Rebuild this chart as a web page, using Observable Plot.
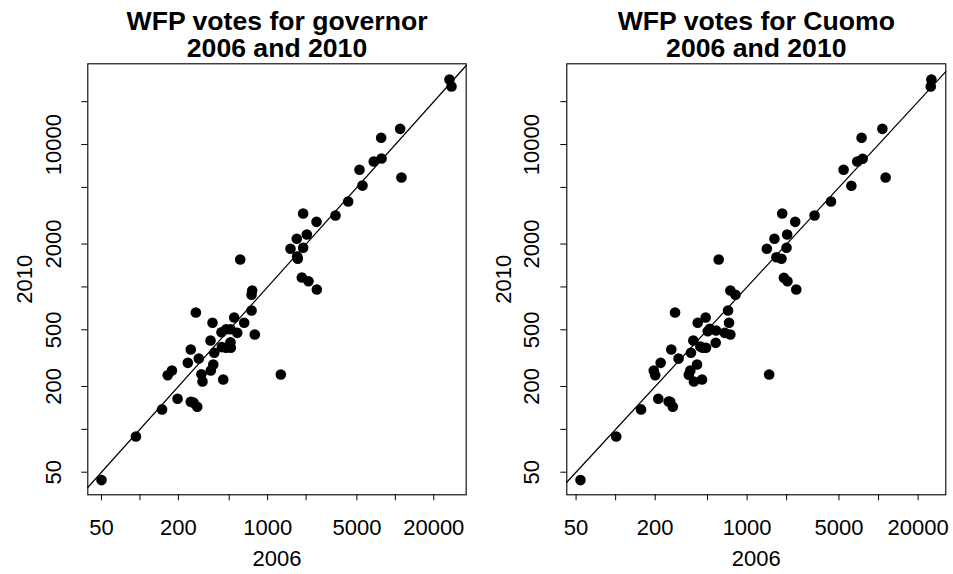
<!DOCTYPE html>
<html><head><meta charset="utf-8">
<script src="https://cdn.jsdelivr.net/npm/d3@7"></script>
<script src="https://cdn.jsdelivr.net/npm/@observablehq/plot@0.6"></script>
<style>
html,body{margin:0;padding:0;background:#fff;}
#row{display:flex;width:953px;height:574px;}
#row svg{display:block;}
</style></head><body><div id="row"></div>
<script>
// WFP votes for governor (left panel)
const governor2006 = [26550, 27540, 10910, 7745, 6780, 7800, 5240, 11170, 5530, 4275, 3400, 1897, 2415, 2028, 1691, 1510, 1897, 1703, 1722, 610, 1853, 2089, 2427, 757, 748, 748, 274, 547, 370, 655, 435, 473, 512, 578, 793, 357, 512, 438, 473, 515, 250, 382, 289, 237, 375, 359, 178, 165, 303, 1268, 309, 449, 197, 250, 263, 281, 149, 93, 50];
const governor2010 = [28640, 25590, 12890, 11150, 7600, 7980, 6650, 5870, 5150, 3980, 3175, 3280, 2866, 2335, 2178, 1853, 1884, 1636, 1577, 1559, 1165, 1097, 959, 944, 881, 684, 661, 610, 560, 560, 481, 505, 505, 476, 463, 421, 409, 378, 374, 374, 364, 345, 314, 293, 285, 259, 259, 240, 244, 243, 217, 224, 164, 156, 154, 144, 138, 89, 44];

// WFP votes for Cuomo (right panel)
const cuomo2006 = [25240, 24950, 10690, 7430, 6890, 7570, 5420, 11320, 6210, 4345, 3260, 1849, 2323, 2018, 1614, 1413, 1995, 1671, 1826, 608, 1905, 2028, 2366, 746, 815, 716, 283, 484, 421, 729, 502, 520, 581, 676, 746, 390, 577, 441, 487, 459, 265, 374, 301, 220, 416, 370, 195, 200, 360, 1472, 394, 454, 211, 253, 260, 272, 156, 101, 54];
const cuomo2010 = [28640, 25590, 12890, 11150, 7600, 7940, 6650, 5870, 5130, 3980, 3175, 3280, 2866, 2335, 2178, 1853, 1884, 1618, 1577, 1559, 1159, 1097, 959, 944, 881, 684, 661, 610, 560, 560, 489, 508, 494, 476, 463, 421, 405, 382, 374, 374, 364, 345, 314, 293, 285, 259, 259, 240, 242, 243, 217, 224, 164, 157, 156, 144, 138, 89, 44];

// Axes
const xTicks = [50, 100, 200, 500, 1000, 2000, 5000, 10000, 20000];
const xTickLabels = [50, 200, 1000, 5000, 20000];
const yTicks = [50, 100, 200, 500, 1000, 2000, 5000, 10000, 20000];
const yTickLabels = [50, 200, 500, 2000, 10000];
const xAxisLabel = "2006";
const yAxisLabel = "2010";
const titleLeft = ["WFP votes for governor", "2006 and 2010"];
const titleRight = ["WFP votes for Cuomo", "2006 and 2010"];

const FONT = "'Liberation Sans', Arial, Helvetica, sans-serif";
const yDomain = [34.7, 36900];

function panel({title, xs, ys, width, marginLeft, marginRight, xDomain, yLabDx, yTitleDx}) {
  const data = xs.map((v, i) => ({x: v, y: ys[i]}));
  const diag = xDomain.map(v => ({x: v, y: v}));
  const txt = {text: d => d, fill: "black", textAnchor: "middle", lineAnchor: "middle"};
  return Plot.plot({
    width, height: 574,
    marginLeft, marginRight, marginTop: 63.3, marginBottom: 79.7,
    style: {fontFamily: FONT, color: "black", background: "white", overflow: "visible"},
    x: {type: "log", domain: xDomain},
    y: {type: "log", domain: yDomain},
    marks: [
      Plot.frame({stroke: "black", strokeWidth: 1.1}),
      Plot.axisX(xTicks, {anchor: "bottom", tickSize: 6, tickFormat: () => "", label: null}),
      Plot.axisY(yTicks, {anchor: "left", tickSize: 6, tickFormat: () => "", label: null}),
      Plot.text(xTickLabels, {...txt, x: d => d, text: d => String(d), frameAnchor: "bottom", dy: 32.7, fontSize: 22}),
      Plot.text(yTickLabels, {...txt, y: d => d, text: d => String(d), frameAnchor: "left", dx: yLabDx, rotate: -90, fontSize: 22}),
      Plot.line(diag, {x: "x", y: "y", stroke: "black", strokeWidth: 1.2}),
      Plot.dot(data, {x: "x", y: "y", r: 5.3, fill: "black", stroke: "none"}),
      Plot.text([title[0]], {...txt, frameAnchor: "top", dy: -42.8, fontSize: 26.6, fontWeight: "bold"}),
      Plot.text([title[1]], {...txt, frameAnchor: "top", dy: -15.4, fontSize: 26.6, fontWeight: "bold"}),
      Plot.text([xAxisLabel], {...txt, frameAnchor: "bottom", dy: 63.7, fontSize: 22}),
      Plot.text([yAxisLabel], {...txt, frameAnchor: "left", dx: yTitleDx, rotate: -90, fontSize: 22})
    ]
  });
}

const row = document.getElementById("row");
row.append(panel({title: titleLeft, xs: governor2006, ys: governor2010, width: 476,
  marginLeft: 87.3, marginRight: 10.3, xDomain: [39.05, 35890], yLabDx: -33.5, yTitleDx: -63}));
row.append(panel({title: titleRight, xs: cuomo2006, ys: cuomo2010, width: 477,
  marginLeft: 90.3, marginRight: 7.7, xDomain: [42.5, 32480], yLabDx: -34.5, yTitleDx: -63}));
</script></body></html>
